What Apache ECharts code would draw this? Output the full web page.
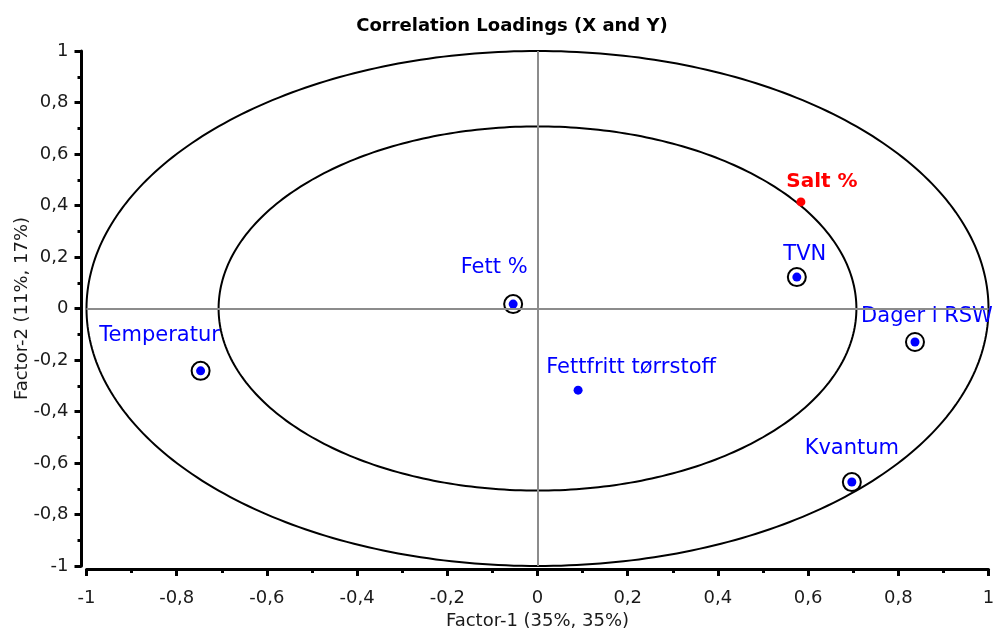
<!DOCTYPE html>
<html>
<head>
<meta charset="utf-8">
<script src="https://cdn.jsdelivr.net/npm/echarts@6/dist/echarts.min.js"></script>
<style>
html,body{margin:0;padding:0;background:#fff;}
#chart{width:1004px;height:632px;}
</style>
</head>
<body>
<div id="chart"></div>
<script>
// ---- data ----
const variables = ['Salt %', 'TVN', 'Fett %', 'Temperatur', 'Fettfritt tørrstoff', 'Dager i RSW', 'Kvantum'];
const factor1 = [0.584, 0.575, -0.054, -0.747, 0.090, 0.837, 0.697];
const factor2 = [0.414, 0.122, 0.017, -0.242, -0.317, -0.130, -0.674];
const block = ['Y', 'X', 'X', 'X', 'X', 'X', 'X'];
const marked = [false, true, true, true, false, true, true];
const ellipseRadii = [1, Math.SQRT1_2];
const titleText = 'Correlation Loadings (X and Y)';
const xName = 'Factor-1 (35%, 35%)';
const yName = 'Factor-2 (11%, 17%)';

// ---- styles (label placement relative to point, in px) ----
const labelOffsets = {
  'Salt %': [21, -20],
  'TVN': [8, -23],
  'Fett %': [-19, -37],
  'Temperatur': [-41, -35],
  'Fettfritt tørrstoff': [53, -23],
  'Dager i RSW': [12, -25],
  'Kvantum': [0, -34]
};
const FONT = '"DejaVu Sans", sans-serif';
const fmt = v => String(Math.round(v * 10) / 10).replace('.', ',');

const chart = echarts.init(document.getElementById('chart'));

const pointData = variables.map((name, i) => {
  const isY = block[i] === 'Y';
  const col = isY ? '#ff0000' : '#0000ff';
  return {
    name: name,
    value: [factor1[i], factor2[i]],
    itemStyle: { color: col, opacity: 1 },
    label: {
      show: true,
      formatter: '{b}',
      position: 'inside',
      offset: labelOffsets[name],
      color: col,
      fontSize: isY ? 20 : 21,
      fontWeight: isY ? 'bold' : 'normal',
      fontFamily: FONT
    }
  };
});
const ringData = variables.map((name, i) => marked[i] ? [factor1[i], factor2[i]] : null).filter(d => d);

const axisCommon = {
  type: 'value', min: -1, max: 1, interval: 0.2,
  axisLine: { show: true, onZero: false, lineStyle: { color: '#000', width: 3 } },
  axisTick: { show: true, inside: false, length: 7, lineStyle: { color: '#000', width: 3 } },
  minorTick: { show: true, splitNumber: 2, length: 4, lineStyle: { color: '#000', width: 3 } },
  splitLine: { show: false },
  axisLabel: { color: '#1a1a1a', fontSize: 18, fontFamily: FONT, formatter: fmt },
  nameTextStyle: { color: '#1a1a1a', fontSize: 18, fontFamily: FONT },
  nameLocation: 'middle',
  nameMoveOverlap: false
};

chart.setOption({
  animation: false,
  backgroundColor: '#fff',
  title: {
    text: titleText, left: 507, textAlign: 'center', top: 12,
    textStyle: { fontSize: 18, fontWeight: 'bold', color: '#000', fontFamily: FONT }
  },
  grid: { left: 86.5, right: 15.5, top: 51, bottom: 66, containLabel: false, outerBoundsMode: 'none' },
  xAxis: Object.assign({}, axisCommon, {
    offset: 3, name: xName, nameGap: 43,
    axisLabel: Object.assign({}, axisCommon.axisLabel, { margin: 20 })
  }),
  yAxis: Object.assign({}, axisCommon, {
    offset: 5, name: yName, nameGap: 50,
    axisLabel: Object.assign({}, axisCommon.axisLabel, { margin: 13 })
  }),
  series: [
    {
      type: 'custom',
      coordinateSystem: 'cartesian2d',
      silent: true,
      data: ellipseRadii.map(r => [0, 0, r]),
      renderItem: function (params, api) {
        const r = api.value(2);
        const pts = [];
        const n = 360;
        for (let k = 0; k <= n; k++) {
          const t = 2 * Math.PI * k / n;
          pts.push(api.coord([r * Math.cos(t), r * Math.sin(t)]));
        }
        return { type: 'polyline', shape: { points: pts }, style: { stroke: '#000', lineWidth: 2, fill: null } };
      },
      markLine: {
        silent: true, symbol: 'none', label: { show: false },
        lineStyle: { color: '#8c8c8c', width: 2, type: 'solid' },
        data: [{ xAxis: 0 }, { yAxis: 0 }]
      },
      z: 1
    },
    {
      type: 'scatter',
      data: ringData,
      symbol: 'circle',
      symbolSize: 18,
      itemStyle: { color: 'rgba(0,0,0,0)', borderColor: '#000', borderWidth: 2, opacity: 1 },
      silent: true,
      z: 2
    },
    {
      type: 'scatter',
      data: pointData,
      symbol: 'circle',
      symbolSize: 9,
      z: 3
    }
  ]
});
</script>
</body>
</html>
